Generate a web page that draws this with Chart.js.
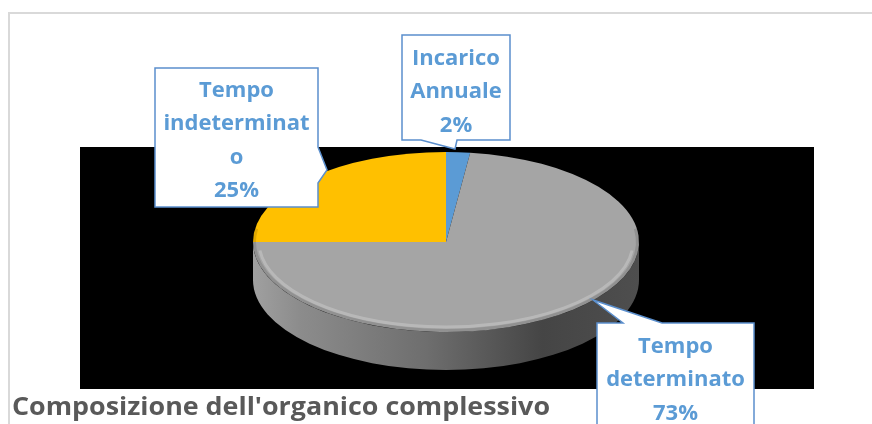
<!DOCTYPE html>
<html>
<head>
<meta charset="utf-8">
<script src="https://cdn.jsdelivr.net/npm/chart.js@4"></script>
<style>
  html, body { margin: 0; padding: 0; background: #fff; }
  #wrap { position: relative; width: 872px; height: 424px; }
</style>
</head>
<body>
<div id="wrap"><canvas id="pie-chart"></canvas></div>
<script>
// data
var labels = ["Incarico Annuale", "Tempo determinato", "Tempo indeterminato"];
var values = [2, 73, 25];
var colors = ["#5B9BD5", "#A5A5A5", "#FFC000"];
// how each callout label wraps (as in the original)
var labelLines = [["Incarico", "Annuale"], ["Tempo", "determinato"], ["Tempo", "indeterminat", "o"]];
var title = "Composizione dell'organico complessivo";

// look of the 3d disc
var disc = { cx: 446, cy: 242, rx: 193, ry: 90, depth: 38 };
var plotBox = { x: 80, y: 147, w: 734, h: 242 };

// callout boxes: outline polygon, text centre x, first baseline
var callouts = [
  { pts: [[402,35],[510,35],[510,140],[457,140],[455,149],[421,140],[402,140]], tx: 456, ty: 65 },
  { pts: [[597,323],[623,323],[593,300],[662,323],[754,323],[754,440],[597,440]], tx: 675.5, ty: 353 },
  { pts: [[155,68],[318,68],[318,147],[327,170],[318,183],[318,207],[155,207]], tx: 236.5, ty: 97 }
];

var discPlugin = {
  id: "disc3d",
  beforeDraw: function(chart) {
    var ctx = chart.ctx;
    ctx.save();
    // outer frame
    ctx.strokeStyle = "#D9D9D9";
    ctx.lineWidth = 2;
    ctx.beginPath();
    ctx.moveTo(9, 430);
    ctx.lineTo(9, 13);
    ctx.lineTo(880, 13);
    ctx.stroke();
    // black plot area
    ctx.fillStyle = "#000";
    ctx.fillRect(plotBox.x, plotBox.y, plotBox.w, plotBox.h);
    ctx.restore();
  },
  beforeDatasetsDraw: function(chart) {
    var ctx = chart.ctx;
    var d = disc;
    // side wall of the disc
    ctx.save();
    var g = ctx.createLinearGradient(d.cx - d.rx, 0, d.cx + d.rx, 0);
    g.addColorStop(0, "#a0a0a0");
    g.addColorStop(0.12, "#8c8c8c");
    g.addColorStop(0.45, "#6e6e6e");
    g.addColorStop(0.75, "#454545");
    g.addColorStop(1, "#4e4e4e");
    ctx.fillStyle = g;
    ctx.beginPath();
    ctx.ellipse(d.cx, d.cy, d.rx, d.ry, 0, 0, Math.PI);
    ctx.lineTo(d.cx - d.rx, d.cy + d.depth);
    ctx.ellipse(d.cx, d.cy + d.depth, d.rx, d.ry, 0, Math.PI, 0, true);
    ctx.closePath();
    ctx.fill();
    ctx.restore();

    // squash the round pie into the top face
    var arc = chart.getDatasetMeta(0).data[0];
    var r0 = arc.outerRadius;
    ctx.save();
    ctx.translate(d.cx, d.cy);
    ctx.scale(d.rx / r0, d.ry / r0);
    ctx.translate(-arc.x, -arc.y);
  },
  afterDatasetsDraw: function(chart) {
    var ctx = chart.ctx;
    var d = disc;
    ctx.restore();
    // soft bevel on the front rim
    ctx.save();
    ctx.strokeStyle = "rgba(255,255,255,0.22)";
    ctx.lineWidth = 3;
    ctx.beginPath();
    ctx.ellipse(d.cx, d.cy, d.rx - 6, d.ry - 5, 0, 0.1, Math.PI - 0.1);
    ctx.stroke();
    ctx.strokeStyle = "rgba(0,0,0,0.12)";
    ctx.lineWidth = 3;
    ctx.beginPath();
    ctx.ellipse(d.cx, d.cy, d.rx - 1.5, d.ry - 1.5, 0, -0.15, Math.PI + 0.15);
    ctx.stroke();
    ctx.restore();
  },
  afterDraw: function(chart) {
    var ctx = chart.ctx;
    var total = values.reduce(function(a, b) { return a + b; }, 0);
    ctx.save();
    for (var i = 0; i < callouts.length; i++) {
      var c = callouts[i];
      ctx.beginPath();
      ctx.moveTo(c.pts[0][0], c.pts[0][1]);
      for (var j = 1; j < c.pts.length; j++) ctx.lineTo(c.pts[j][0], c.pts[j][1]);
      ctx.closePath();
      ctx.fillStyle = "#fff";
      ctx.fill();
      ctx.strokeStyle = "#5B8FCD";
      ctx.lineWidth = 1.5;
      ctx.stroke();

      var lines = labelLines[i].concat([Math.round(values[i] / total * 100) + "%"]);
      ctx.fillStyle = "#5B9BD5";
      ctx.font = "bold 22px 'Open Sans'";
      ctx.textAlign = "center";
      ctx.textBaseline = "alphabetic";
      for (var k = 0; k < lines.length; k++) {
        ctx.fillText(lines[k], c.tx, c.ty + k * 33.3);
      }
    }
    // title, fitted to the original's width
    ctx.font = "bold 25px 'Open Sans'";
    ctx.fillStyle = "#595959";
    ctx.textAlign = "left";
    var w = ctx.measureText(title).width;
    ctx.translate(12, 415);
    ctx.scale(538 / w, 1);
    ctx.fillText(title, 0, 0);
    ctx.restore();
  }
};

var config = {
  type: "pie",
  data: {
    labels: labels,
    datasets: [{ data: values, backgroundColor: colors, borderWidth: 0, clip: false }]
  },
  options: {
    responsive: true,
    maintainAspectRatio: false,
    animation: false,
    events: [],
    plugins: {
      legend: { display: false },
      tooltip: { enabled: false },
      title: { display: false }
    }
  },
  plugins: [discPlugin]
};

var PieChart = new Chart(document.getElementById("pie-chart"), config);
</script>
</body>
</html>
